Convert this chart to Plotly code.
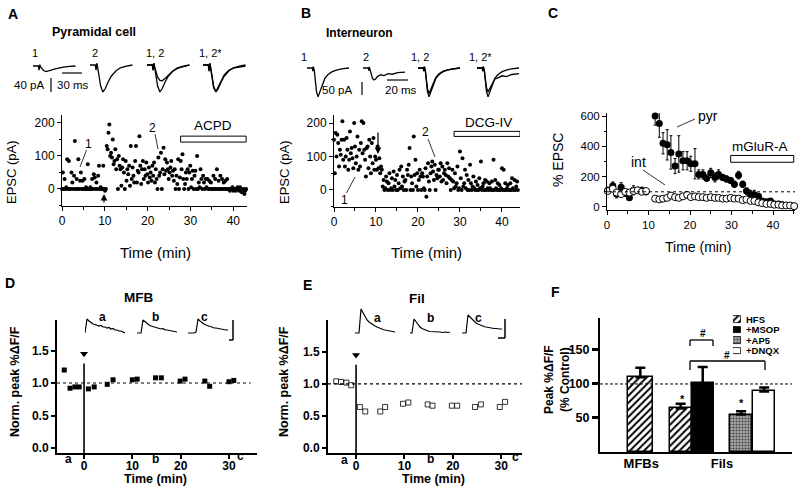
import numpy as np
import plotly.graph_objects as go

W, H = 800, 493
FONT = "Liberation Sans"

# ---------------- data ----------------
# Panel A: pyramidal-cell EPSC amplitude (pA), 5 samples per minute
A_epsc = [
    0, 50, 0, 30, 0,   5, 90, 0, 85, 0,   0, 50, 20, 0, 40,   145, 0, 30, 0, 90,
    0, 25, 50, 0, 25,  0, 30, 0, 5, 0,    75, 0, 0, 5, 0,     30, 0, 45, 35, 0,
    20, 0, 40, 70, 0,  5, 0, 0, 70, 0,    -5, 0, 130, 120, 170, 195, 100, 110, 95, 150,
    75, 85, 120, 60, 90, 0, 100, 70, 60, 10, 65, 90, 50, 0, 85, 25, 60, 45, 70, 10,
    130, 30, 65, 40, 20, 85, 130, 20, 55, 50, 160, 70, 15, 60, 85, 30, 60, 40, 80, 45,
    20, 65, 35, 50, 25, 70, 40, 80, 20, 60, 30, 0, 95, 40, 50, 110, 0, 60, 125, 45,
    90, 55, 80, 60, 30, 50, 65, 85, 40, 55, 25, 60, 0, 40, 15, 90, 0, 35, 85, 60,
    105, 30, 0, 15, 50, 30, 60, 0, 50, 70, 5, 30, 55, 0, 40, 55, 0, 100, 0, 20,
    5, 60, 30, 0, 40, 20, 0, 30, 5, 30, 0, 25, 0, 20, 0, 0, 40, 0, 30, 0,
    60, 0, 25, 0, 40, 0, 30, 0, 20, 0, 25, 0, 30, 0, 0, -5, 0, 0, 5, -5,
    0, 0, -5, 0, 5, 0, -5, 5, 0, -10, -5, 0, -15, -5, 0,
]
A_time = np.linspace(0, 43, len(A_epsc))
ACPD_period = [27.7, 43.0]
ACPD_level = [142, 160]

# Panel B: interneuron EPSC amplitude (pA), 5 samples per minute
B_epsc = [
    150, 50, 170, 100, 165, 140, 70, 120, 105, 150, 205, 90, 150, 70, 100,
    155, 120, 60, 90, 175, 110, 125, 95, 65, 200, 130, 80, 100, 160, 60,
    120, 70, 140, 205, 110, 200, 120, 90, 40, 125, 130, 65, 150, 100, 50,
    140, 80, 155, 60, 100, 90, 60, 130, 65, 95, 50, 70, 60, 10, 30,
    0, 5, 40, 25, 0, 20, 50, 0, 5, 35, 0, 55, 10, 30, 0,
    45, 0, 20, 60, 5, 70, 10, 40, 0, 25, 30, 0, 60, 45, 75,
    125, 0, 40, 20, 0, 160, 45, 90, 10, 50, 0, 30, 60, 40, 0,
    50, 40, 5, 0, 65, -20, 40, 80, 25, 0, 50, 70, 85, 55, 30,
    75, 0, 45, 35, 60, 60, 40, 80, 25, 70, 30, 50, 60, 45, 20,
    80, 40, 65, 35, 0, 30, 60, 25, 5, 50, 10, 20, 70, 0, 5,
    115, 35, 0, 95, 10, 20, 60, 5, 45, 0, 30, 0, 75, 20, 0,
    10, 40, 5, 0, 25, 0, 15, 0, 35, 5, 85, 0, 10, 20, 0,
    30, 0, 25, 5, 0, 20, 5, 0, 25, 0, 90, 0, 30, 5, 0,
    20, 0, 15, 0, 5, 65, 0, 60, 0, 20, 0, 5, 15, 0, 0,
    20, 0, 35, 5, 0, 30, 0, 10, 25, 0,
]
B_time = np.linspace(0, 43.8, len(B_epsc))
DCG_period = [28.6, 44.3]
DCG_level = [160, 175]

# Panel C: % EPSC, pyramidal (filled) and interneuron (open)
C_time = [0.2, 1.4, 2.3, 3.4, 4.4, 5.4, 6.4, 7.4, 8.4, 9.4,
          11.6, 12.6, 13.5, 14.5, 15.4, 16.4, 17.3, 18.3, 19.3, 20.2, 21.2, 22.1,
          23.1, 24.0, 25.0, 26.0, 26.9, 27.9, 28.8, 29.8, 30.7, 31.7, 32.7, 33.6,
          34.6, 35.5, 36.5, 37.4, 38.4, 39.4, 40.3, 41.3, 42.2, 43.2, 44.1, 45.1]
C_pyr = [110, 140, 85, 130, 90, 60, 110, 110, 110, 100,
         600, 550, 420, 410, 360, 270, 350, 305, 305, 285, 285, 215, 215, 190,
         225, 195, 215, 195, 185, 175, 150, 210, 150, 105, 80, 80, 70, 40, 35,
         40, 20, 20, 15, 10, 10, 5]
C_pyr_err = [20, 25, 25, 30, 20, 15, 30, 20, 20, 20,
             60, 90, 70, 100, 110, 50, 120, 60, 60, 50, 100, 30, 30, 20, 30, 30,
             30, 20, 20, 20, 20, 25, 20, 20, 30, 30, 20, 15, 15, 10, 10, 10, 10, 5, 5, 5]
C_int = [105, 120, 95, 85, 100, 95, 105, 110, 100, 105,
         55, 50, 55, 60, 75, 65, 60, 70, 80, 65, 70, 65, 65, 60, 65, 60, 60, 55,
         55, 60, 55, 55, 45, 50, 40, 40, 30, 25, 20, 20, 15, 15, 10, 10, 10, 5]
C_int_err = [10] * 10 + [8] * 36
mGluR_period = [29.8, 45.0]
mGluR_level = [295, 340]

# Panel D: MFB normalised peak dF/F
D_time = [-4.1, -2.9, -1.9, -1.0, 0.9, 2.1, 4.8, 6.0, 10.0, 11.0, 14.8, 16.0,
          19.9, 20.9, 25.0, 26.0, 30.0, 31.0]
D_mfb = [1.20, 0.92, 0.94, 0.94, 0.91, 0.94, 0.98, 1.05, 1.05, 1.06, 1.08, 1.08,
         1.03, 1.06, 1.03, 0.95, 1.02, 1.04]
# Panel E: filopodia normalised peak dF/F
E_time = [-4.1, -3.1, -2.0, -1.0, 0.8, 1.9, 5.0, 6.0, 9.7, 10.8, 14.8, 15.8,
          19.8, 20.9, 24.6, 25.8, 29.7, 30.8]
E_fil = [1.04, 1.03, 1.02, 0.98, 0.64, 0.57, 0.57, 0.64, 0.69, 0.71, 0.68, 0.66,
         0.66, 0.66, 0.64, 0.68, 0.64, 0.72]
stim_time = 0
stim_top = 1.3
stim_mark = 1.45

# Panel F: peak dF/F (% control)
F_groups = ["MFBs", "Fils"]
F_conditions = ["HFS", "+MSOP", "+AP5", "+DNQX"]
F_mfb = [110]
F_mfb_err = [14]
F_fils = [64, 101, 55, 89]
F_fils_err = [7, 24, 5, 6]

# Example traces (ms, pA) for A and B; (frames, %dF/F) for D and E
A_tr_t = [0, 3.5, 4, 4.5, 5, 6, 7, 8.5, 10, 12, 14, 17, 20, 24, 28]
A_tr1 = [0, 0, -12, 4, -3, -8, -13, -16, -15, -12, -9, -5, -3, -1, 0]
A_tr2 = [0, 0, -15, 5, -5, -30, -60, -77, -68, -48, -32, -17, -8, -3, 0]
A_tr1s = [0, 0, -15, 5, -5, -20, -35, -44, -45, -38, -30, -18, -10, -4, 0]
A_tr2s = [0, 0, -18, 4, -8, -35, -65, -76, -63, -44, -28, -15, -9, -6, -3]
B_tr_t = [0, 5, 5.5, 6, 7, 8, 9, 10.5, 12, 14, 17, 20, 24, 28, 33, 40]
B_tr1 = [0, 0, -12, 5, -10, -50, -90, -111, -95, -70, -40, -25, -14, -8, -3, 0]
B_tr2 = [0, 0, -10, 4, -10, -25, -40, -46, -42, -32, -26, -29, -22, -24, -18, -16]
B_tr1s = [0, 0, -12, 5, -10, -45, -80, -98, -85, -62, -36, -22, -12, -7, -3, 0]
B_tr2s = [0, 0, -12, 5, -10, -42, -75, -92, -80, -60, -42, -38, -30, -33, -25, -22]
F_tr_t = [0, 2, 4, 6, 8, 10, 12, 14, 16, 18, 20, 22, 24, 26, 28, 30, 32, 34, 36, 38, 40]
D_tr_a = [0, 14, 12, 10, 9, 8.5, 8, 7, 7.5, 6, 6, 5, 5.5, 4, 4.5, 3, 3, 2, 2, 1, 0]
D_tr_b = [0, 0, 0, 13, 11, 9, 8, 7, 6.5, 6, 5, 5, 4, 4.5, 3, 3, 2.5, 2, 2, 1.5, 1]
D_tr_c = [0, 0, 0, 0, 1, 14, 12, 10, 9, 8, 7, 6.5, 6, 5, 5, 4.5, 4, 4, 3.5, 3, 3]
E_tr_a = [0, 0, 0, 24, 20, 16, 13, 11, 9.5, 8, 7, 6, 5, 4.5, 3.5, 3, 2.5, 2, 1.5, 1.5, 1]
E_tr_b = [0, 0, 14, 11, 8, 6, 4.5, 3.5, 2.5, 2, 1.5, 1.5, 1, 1.5, 1, 1, 0.5, 1, 1, 0.5, 1]
E_tr_c = [0, 0, 0, 18, 16, 13, 11, 10, 9, 8, 7, 6.5, 6, 5.5, 5, 5, 4.5, 4.5, 4, 4, 4]

# ---------------- helpers ----------------
def fx(px):
    return px / W


def fy(py):
    return 1 - py / H


layout = dict(width=W, height=H, margin=dict(l=0, r=0, t=0, b=0), template="none",
              paper_bgcolor="white", plot_bgcolor="rgba(0,0,0,0)",
              showlegend=False, font=dict(family=FONT, color="black"))
traces, annotations, shapes = [], [], []


def axis_pair(i, x0, x1, y0, y1, xr, yr, xkw=None, ykw=None, visible=True):
    s = "" if i == 1 else str(i)
    xa = dict(domain=[fx(x0), fx(x1)], range=xr, anchor="y" + s, showgrid=False,
              zeroline=False, fixedrange=True)
    ya = dict(domain=[fy(y1), fy(y0)], range=yr, anchor="x" + s, showgrid=False,
              zeroline=False, fixedrange=True)
    if not visible:
        xa["visible"] = False
        ya["visible"] = False
    if xkw:
        xa.update(xkw)
    if ykw:
        ya.update(ykw)
    layout["xaxis" + s] = xa
    layout["yaxis" + s] = ya
    return "x" + s, "y" + s


def ann(text, px, py, size, bold=False, angle=0, xanchor="center"):
    annotations.append(dict(text="<b>%s</b>" % text if bold else text, x=fx(px), y=fy(py),
                            xref="paper", yref="paper", showarrow=False, textangle=angle,
                            font=dict(size=size, family=FONT, color="black"),
                            xanchor=xanchor, yanchor="middle"))


def pline(x0, y0, x1, y1, w=1.0):
    shapes.append(dict(type="line", xref="paper", yref="paper", x0=fx(x0), y0=fy(y0),
                       x1=fx(x1), y1=fy(y1), line=dict(color="black", width=w)))


def parrow(px, ytail, yhead):
    annotations.append(dict(text="", x=fx(px), y=fy(yhead), ax=0, ay=ytail - yhead,
                            xref="paper", yref="paper", axref="pixel", ayref="pixel",
                            showarrow=True, arrowhead=2, arrowsize=1.1, arrowwidth=1.2,
                            arrowcolor="black"))


def thin(size=12, **kw):
    d = dict(showline=True, linecolor="black", linewidth=1, ticks="outside", ticklen=4,
             tickwidth=1, tickcolor="black",
             tickfont=dict(size=size, family=FONT, color="black"))
    d.update(kw)
    return d


def thick(size=12, **kw):
    d = dict(showline=True, linecolor="black", linewidth=2, ticks="outside", ticklen=4,
             tickwidth=2, tickcolor="black",
             tickfont=dict(size=size, family=FONT, weight="bold", color="black"))
    d.update(kw)
    return d


minor_x = dict(dtick=5, ticks="outside", ticklen=2.5, tickcolor="black", tickwidth=1)
minor_y = dict(dtick=50, ticks="outside", ticklen=2.5, tickcolor="black", tickwidth=1)

# ---------------- Panel A ----------------
xa, ya = axis_pair(1, 62, 247, 115, 206, [0, 43.2], [-51.5, 224],
                   thin(tick0=0, dtick=10, minor=minor_x),
                   thin(tick0=0, dtick=100, minor=minor_y))
traces.append(go.Scatter(x=A_time, y=A_epsc, mode="markers", xaxis=xa, yaxis=ya,
                         marker=dict(size=4, color="black"), cliponaxis=False))
shapes.append(dict(type="rect", xref=xa, yref=ya, x0=ACPD_period[0], x1=ACPD_period[1],
                   y0=ACPD_level[0], y1=ACPD_level[1], fillcolor="white",
                   line=dict(color="black", width=1)))
ann("A", 13, 14, 14, bold=True)
ann("Pyramidal cell", 94, 32, 12.5, bold=True)
ann("ACPD", 213, 125, 13.5)
ann("EPSC (pA)", 12, 172, 13, angle=-90)
ann("Time (min)", 155, 252, 15)
ann("1", 88, 144, 12)
pline(86.5, 150, 80, 167, 0.8)
ann("2", 152, 128, 12)
pline(155, 134, 158, 149, 0.8)
parrow(104, 204, 194)
# example traces
for k, (x0, base, trs) in enumerate([(33, 66, [A_tr1]), (90, 65, [A_tr2]),
                                     (147, 65, [A_tr1s, A_tr2]), (203, 65, [A_tr2, A_tr2s])]):
    xi, yi = axis_pair(7 + k, x0, x0 + 44, base - 5.25, base + 29.75, [0, 29], [-85, 15],
                       visible=False)
    for tr in trs:
        traces.append(go.Scatter(x=A_tr_t, y=tr, mode="lines", xaxis=xi, yaxis=yi,
                                 line=dict(color="black", width=1.3), cliponaxis=False))
ann("1", 35, 53, 11)
ann("2", 95, 53, 11)
ann("1, 2", 155, 53, 11)
ann("1, 2*", 210, 53, 11)
ann("40 pA", 29, 85, 11.5)
ann("30 ms", 73, 85, 11.5)
pline(51, 78, 51, 92, 1.2)
pline(62, 73, 82, 73, 1.2)

# ---------------- Panel B ----------------
xb, yb = axis_pair(2, 334, 520, 115, 207, [0, 44.3], [-51, 224],
                   thin(tick0=0, dtick=10, minor=minor_x),
                   thin(tick0=0, dtick=100, minor=minor_y))
traces.append(go.Scatter(x=B_time, y=B_epsc, mode="markers", xaxis=xb, yaxis=yb,
                         marker=dict(size=4, color="black"), cliponaxis=False))
shapes.append(dict(type="rect", xref=xb, yref=yb, x0=DCG_period[0], x1=DCG_period[1],
                   y0=DCG_level[0], y1=DCG_level[1], fillcolor="white",
                   line=dict(color="black", width=1)))
ann("B", 306, 13, 14, bold=True)
ann("Interneuron", 359, 33, 12, bold=True)
ann("DCG-IV", 488, 122, 13.5)
ann("EPSC (pA)", 285, 172, 13, angle=-90)
ann("Time (min)", 427, 252, 15)
ann("1", 344, 200, 12)
pline(346.5, 193, 355, 177, 0.8)
ann("2", 425, 132, 12)
pline(428, 139, 435, 157, 0.8)
parrow(378, 131, 154)
for k, (x0, trs) in enumerate([(307, [B_tr1]), (363, [B_tr2]), (418, [B_tr1, B_tr1s]),
                               (477, [B_tr1, B_tr2s])]):
    xi, yi = axis_pair(11 + k, x0, x0 + 42, 62.8, 99.2, [0, 40], [-120, 20], visible=False)
    for tr in trs:
        traces.append(go.Scatter(x=B_tr_t, y=tr, mode="lines", xaxis=xi, yaxis=yi,
                                 line=dict(color="black", width=1.3), cliponaxis=False))
ann("1", 304, 57, 11)
ann("2", 366, 57, 11)
ann("1, 2", 420, 57, 11)
ann("1, 2*", 480, 57, 11)
ann("50 pA", 337, 90, 11.5)
ann("20 ms", 401, 90, 11.5)
pline(362, 82, 362, 95, 1.2)
pline(387, 80, 408, 80, 1.2)

# ---------------- Panel C ----------------
xc, yc = axis_pair(3, 607, 795, 113, 210, [0, 45.3], [-20, 620],
                   thin(size=11.5, tick0=0, dtick=10, minor=minor_x),
                   thin(size=11.5, tick0=0, dtick=200,
                        minor=dict(dtick=100, ticks="outside", ticklen=2.5,
                                   tickcolor="black", tickwidth=1)))
shapes.append(dict(type="line", xref=xc + " domain", yref=yc, x0=0, x1=1, y0=100, y1=100,
                   line=dict(color="black", width=1, dash="dot")))
traces.append(go.Scatter(x=C_time, y=C_pyr, mode="markers", xaxis=xc, yaxis=yc,
                         error_y=dict(type="data", array=C_pyr_err, thickness=1, width=1.5,
                                      color="black"),
                         marker=dict(size=7, color="black"), cliponaxis=False))
traces.append(go.Scatter(x=C_time, y=C_int, mode="markers", xaxis=xc, yaxis=yc,
                         error_y=dict(type="data", array=C_int_err, thickness=0.8, width=1,
                                      color="black"),
                         marker=dict(size=7, color="white", line=dict(color="black", width=1)),
                         cliponaxis=False))
shapes.append(dict(type="rect", xref=xc, yref=yc, x0=mGluR_period[0], x1=mGluR_period[1],
                   y0=mGluR_level[0], y1=mGluR_level[1], fillcolor="white",
                   line=dict(color="black", width=1)))
ann("C", 553, 13, 14, bold=True)
ann("% EPSC", 558, 160, 14, angle=-90)
ann("Time (min)", 698, 247, 14)
ann("mGluR-A", 760, 146, 13.5)
ann("pyr", 708, 116, 14)
pline(695, 119, 677, 127, 0.8)
ann("int", 638, 162, 14)
pline(643, 170, 665, 185, 0.8)

# ---------------- Panel D ----------------
xd, yd = axis_pair(4, 57, 257, 320, 453, [-5.6, 35.8], [-0.077, 1.97],
                   thick(tickvals=[0, 10, 20, 30], ticklabelstandoff=-3),
                   thick(tickvals=[0, 0.5, 1.0, 1.5], tickformat=".1f"))
shapes.append(dict(type="line", xref=xd, yref=yd, x0=-5.6, x1=34.5, y0=1, y1=1,
                   line=dict(color="black", width=1.2, dash="dot")))
shapes.append(dict(type="line", xref=xd, yref=yd, x0=stim_time, x1=stim_time, y0=-0.077,
                   y1=stim_top, line=dict(color="black", width=1.6)))
traces.append(go.Scatter(x=[stim_time], y=[stim_mark], mode="markers", xaxis=xd, yaxis=yd,
                         marker=dict(symbol="triangle-down", size=7, color="black")))
traces.append(go.Scatter(x=D_time, y=D_mfb, mode="markers", xaxis=xd, yaxis=yd,
                         marker=dict(symbol="square", size=5, color="black")))
for k, (x0, tr) in enumerate([(85, D_tr_a), (137, D_tr_b), (188, D_tr_c)]):
    xi, yi = axis_pair(15 + k, x0, x0 + 40, 316, 336, [0, 40], [-3, 17], visible=False)
    traces.append(go.Scatter(x=F_tr_t, y=tr, mode="lines", xaxis=xi, yaxis=yi,
                             line=dict(color="black", width=1.2), cliponaxis=False))
pline(233, 320, 233, 340, 1.5)
pline(229, 340, 233, 340, 1.5)
ann("D", 10, 283, 14, bold=True)
ann("MFB", 138, 297, 13.5, bold=True)
ann("a", 102, 317, 12, bold=True)
ann("b", 155, 317, 12, bold=True)
ann("c", 205, 317, 12, bold=True)
ann("a", 68, 459, 12, bold=True)
ann("b", 155, 459, 12, bold=True)
ann("c", 240, 456, 12, bold=True)
ann("Time (min)", 155, 479, 12.5, bold=True)
ann("Norm. peak %ΔF/F", 15, 382, 12.5, bold=True, angle=-90)

# ---------------- Panel E ----------------
xe, ye = axis_pair(5, 328, 522, 320, 453, [-5.8, 34.3], [-0.078, 1.997],
                   thick(tickvals=[0, 10, 20, 30], ticklabelstandoff=-3),
                   thick(tickvals=[0, 0.5, 1.0, 1.5], tickformat=".1f"))
shapes.append(dict(type="line", xref=xe + " domain", yref=ye, x0=0, x1=1, y0=1, y1=1,
                   line=dict(color="black", width=1.2, dash="dot")))
shapes.append(dict(type="line", xref=xe, yref=ye, x0=stim_time, x1=stim_time, y0=-0.078,
                   y1=stim_top, line=dict(color="black", width=1.6)))
traces.append(go.Scatter(x=[stim_time], y=[stim_mark], mode="markers", xaxis=xe, yaxis=ye,
                         marker=dict(symbol="triangle-down", size=7, color="black")))
traces.append(go.Scatter(x=E_time, y=E_fil, mode="markers", xaxis=xe, yaxis=ye,
                         marker=dict(symbol="square", size=5, color="white",
                                     line=dict(color="black", width=0.8))))
for k, (x0, tr) in enumerate([(355, E_tr_a), (410, E_tr_b), (462, E_tr_c)]):
    xi, yi = axis_pair(18 + k, x0, x0 + 40, 306, 336, [0, 40], [-3, 27], visible=False)
    traces.append(go.Scatter(x=F_tr_t, y=tr, mode="lines", xaxis=xi, yaxis=yi,
                             line=dict(color="black", width=1.2), cliponaxis=False))
pline(505, 319, 505, 338, 1.5)
pline(498, 338, 505, 338, 1.5)
ann("E", 307, 285, 14, bold=True)
ann("Fil", 417, 298, 13.5, bold=True)
ann("a", 377, 318, 12, bold=True)
ann("b", 430, 318, 12, bold=True)
ann("c", 478, 318, 12, bold=True)
ann("a", 344, 460, 12, bold=True)
ann("b", 431, 459, 12, bold=True)
ann("c", 515, 457, 12, bold=True)
ann("Time (min)", 433, 479, 12.5, bold=True)
ann("Norm. peak %ΔF/F", 284, 382, 12.5, bold=True, angle=-90)

# ---------------- Panel F ----------------
mfb_pos = 2.1
fil_pos = [4.2, 5.35, 7.35, 8.55]
xf, yf = axis_pair(6, 600, 792, 318, 452, [0, 10], [0, 197],
                   thick(size=13, ticks="", tickvals=[2.15, 6.35], ticktext=F_groups,
                         ticklabelstandoff=-2),
                   thick(size=12.5, tickvals=[50, 100, 150], ticklen=6, tickwidth=3))
styles = [
    dict(color="white", line=dict(color="black", width=1.5),
         pattern=dict(shape="/", fgcolor="black", bgcolor="white", size=5, solidity=0.4)),
    dict(color="black", line=dict(color="black", width=1.5)),
    dict(color="#999999", line=dict(color="black", width=1.5),
         pattern=dict(shape=".", fgcolor="#444444", bgcolor="#aaaaaa", size=3, solidity=0.4)),
    dict(color="white", line=dict(color="black", width=1.5)),
]
err_style = dict(type="data", symmetric=False, thickness=2.5, width=5, color="black")
traces.append(go.Bar(x=[mfb_pos], y=F_mfb, width=1.3, xaxis=xf, yaxis=yf, marker=styles[0],
                     error_y=dict(err_style, array=F_mfb_err, arrayminus=[0])))
for k in range(4):
    traces.append(go.Bar(x=[fil_pos[k]], y=[F_fils[k]], width=1.15, xaxis=xf, yaxis=yf,
                         marker=styles[k], name=F_conditions[k],
                         error_y=dict(err_style, array=[F_fils_err[k]], arrayminus=[0])))
shapes.append(dict(type="line", xref=xf + " domain", yref=yf, x0=0, x1=1, y0=100, y1=100,
                   line=dict(color="black", width=1, dash="3px,2px")))
# legend swatches
xl, yl = axis_pair(21, 733, 741, 314, 356, [0, 1], [3.5, -0.5], visible=False)
for k in range(4):
    traces.append(go.Bar(x=[1], y=[k], orientation="h", width=0.62, xaxis=xl, yaxis=yl,
                         marker=dict(styles[k], line=dict(color="black", width=0.8))))
for k, py in enumerate([319.25, 329.75, 340.25, 350.75]):
    ann(F_conditions[k], 744, py, 9.5, bold=True, xanchor="left")
# significance brackets
pline(690, 346, 690, 340, 1.3)
pline(690, 340, 713, 340, 1.3)
pline(713, 340, 713, 346, 1.3)
ann("#", 703, 333, 10, bold=True)
pline(690, 370, 690, 361, 1.3)
pline(690, 361, 765, 361, 1.3)
pline(765, 361, 765, 370, 1.3)
ann("#", 727, 355, 10, bold=True)
ann("*", 682, 399, 11, bold=True)
ann("*", 741, 403, 11, bold=True)
ann("F", 555, 292, 14, bold=True)
ann("Peak %ΔF/F<br>(% Control)", 557, 380, 12, bold=True, angle=-90)

layout["annotations"] = annotations
layout["shapes"] = shapes
layout["bargap"] = 0
fig = go.Figure(data=traces, layout=layout)
fig.write_html("out.html", config={"displayModeBar": False},
               post_script="document.body.style.margin='0px';")
